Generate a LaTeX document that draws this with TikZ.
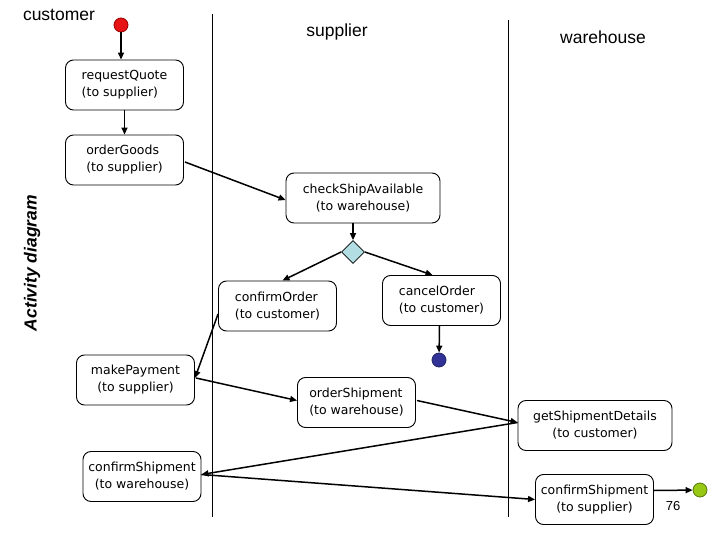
\documentclass[tikz,border=0pt]{standalone}
\usepackage{fontspec}
\setmainfont{Liberation Sans}
\newfontfamily\boxfont{DejaVu Sans}
\usetikzlibrary{arrows.meta,shapes.geometric,calc}
\definecolor{diafill}{RGB}{178,221,226}
\definecolor{startred}{RGB}{230,20,20}
\definecolor{endblue}{RGB}{50,50,150}
\definecolor{endgreen}{RGB}{150,200,20}
\tikzset{
  act/.style={draw, line width=0.9pt, rounded corners=8pt, minimum width=118pt, minimum height=50pt,
    inner sep=2pt, font=\boxfont\fontsize{12.5}{17}\selectfont},
  wideact/.style={act, minimum width=154pt},
  flow/.style={line width=1.5pt, -{Triangle[length=7pt,width=6pt]}},
  lane/.style={line width=0.9pt},
  title/.style={font=\fontsize{17.5}{19}\selectfont},
  dot/.style={circle, draw, line width=0.8pt, minimum size=14pt, inner sep=0pt},
}
\begin{document}
\begin{tikzpicture}[x=1pt,y=-1pt]
\useasboundingbox (0,0) rectangle (720,540);
% swimlanes
\draw[lane] (212,14) -- (212,517);
\draw[lane] (508,20) -- (508,517);
% titles
\node[title] (tcust) at (59,15) {customer};
\node[title] (tsup) at (337,32) {supplier};
\node[title] (tware) at (603,37) {warehouse};
\node[rotate=90, font=\bfseries\itshape\fontsize{17.5}{19}\selectfont] (tact) at (32,263) {Activity diagram};
% nodes
\node[dot, fill=startred, draw=red!60!black] (start) at (121,25) {};
\node[act, align=left] (rq) at (124.5,85) {requestQuote\\(to supplier)};
\node[act, align=left] (og) at (124.5,160) {orderGoods\\(to supplier)};
\node[wideact, align=center] (cs) at (363,198) {checkShipAvailable\\(to warehouse)};
\node[diamond, draw, line width=0.8pt, fill=diafill, minimum width=23pt, minimum height=23pt, inner sep=0pt] (dia) at (353,252) {};
\node[act, align=left] (co) at (277.5,306) {confirmOrder\\(to customer)};
\node[act, align=left] (ca) at (441.5,300.5) {cancelOrder\\(to customer)};
\node[dot, fill=endblue, draw=endblue!70!black] (end1) at (439,360) {};
\node[act, align=center] (mp) at (135.5,380) {makePayment\\(to supplier)};
\node[act, align=left] (os) at (356.5,402.5) {orderShipment\\(to warehouse)};
\node[wideact, align=center] (gsd) at (595,425.5) {getShipmentDetails\\(to customer)};
\node[act, align=center] (csc) at (142,476.5) {confirmShipment\\(to warehouse)};
\node[act, align=center] (css) at (594.5,499.5) {confirmShipment\\(to supplier)};
\node[dot, fill=endgreen, draw=endgreen!60!black] (end2) at (700,490) {};
\node[font=\fontsize{13}{15}\selectfont] (pnum) at (673,506) {76};
% flows
\draw[flow] (start) -- (start |- rq.north);
\draw[flow] (rq) -- (og);
\draw[flow] ($(og.east)+(1,2)$) -- ($(cs.west)+(0,2)$);
\draw[flow] (cs.south -| dia) -- (dia.north);
\draw[flow] (dia.west) -- ($(co.north)+(5,0)$);
\draw[flow] (dia.east) -- ($(ca.north)+(-9,0)$);
\draw[flow] ($(ca.south)+(-2,0)$) -- (end1);
\draw[flow] ($(co.west)+(0,8)$) -- ($(mp.east)+(0,-2)$);
\draw[flow] ($(mp.east)+(1,-2)$) -- ($(os.west)+(0,-2)$);
\draw[flow] ($(os.east)+(1,-2)$) -- ($(gsd.west)+(0,-3)$);
\draw[flow] ($(gsd.west)+(0,-3)$) -- ($(csc.east)+(0,-2)$);
\draw[flow] ($(csc.east)+(0,-2)$) -- ($(css.west)+(0,0)$);
\draw[flow] ($(css.east)+(0,-9)$) -- (end2);
\end{tikzpicture}
\end{document}
